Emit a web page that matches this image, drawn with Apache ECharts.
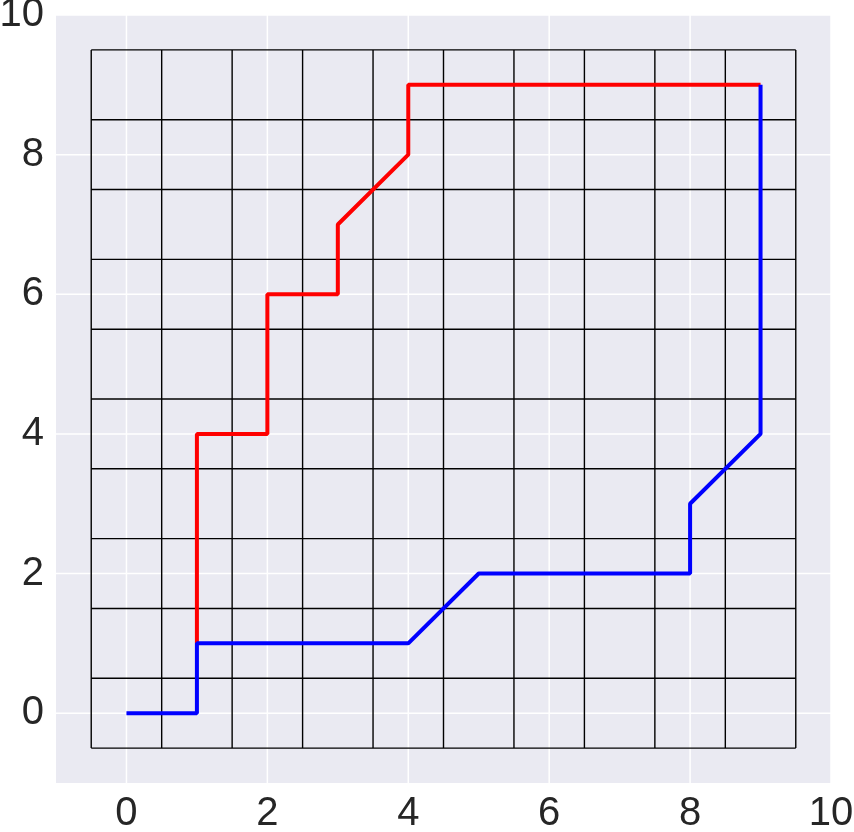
<!DOCTYPE html>
<html><head><meta charset="utf-8">
<script src="https://cdn.jsdelivr.net/npm/echarts@6/dist/echarts.min.js"></script>
<style>html,body{margin:0;padding:0;background:#fff}#c{width:854px;height:832px}</style>
</head><body><div id="c"></div>
<script>
const axisMin = -1, axisMax = 10;
const majorTicks = [0, 2, 4, 6, 8, 10];
const mazeLines = [-0.5, 0.5, 1.5, 2.5, 3.5, 4.5, 5.5, 6.5, 7.5, 8.5, 9.5];
const redPath = [[1,1],[1,4],[2,4],[2,6],[3,6],[3,7],[4,8],[4,9],[9,9]];
const bluePath = [[0,0],[1,0],[1,1],[4,1],[5,2],[8,2],[8,3],[9,4],[9,9]];

const series = [];
function seg(data, color, width, z) {
  series.push({type:'line', data:data, showSymbol:false, symbol:'none', silent:true,
    lineStyle:{color:color, width:width}, z:z, animation:false, clip:false});
}
majorTicks.forEach(v => {
  seg([[v, axisMin],[v, axisMax]], '#ffffff', 1.5, 1);
  seg([[axisMin, v],[axisMax, v]], '#ffffff', 1.5, 1);
});
const lo = mazeLines[0], hi = mazeLines[mazeLines.length-1];
mazeLines.forEach(v => {
  seg([[v, lo],[v, hi]], '#000000', 1.4, 2);
  seg([[lo, v],[hi, v]], '#000000', 1.4, 2);
});
seg(redPath, '#ff0000', 4, 3);
seg(bluePath, '#0000ff', 4, 4);

const lab = {fontFamily:'Liberation Sans, Arial, sans-serif', fontSize:40, color:'#262626',
  formatter: v => (majorTicks.indexOf(v) >= 0 ? String(v) : '')};
const chart = echarts.init(document.getElementById('c'), null, {renderer:'canvas'});
chart.setOption({
  animation:false,
  backgroundColor:'#ffffff',
  grid:{left:56, right:23, top:15, bottom:49, show:true, backgroundColor:'#eaeaf2', borderWidth:0,
    containLabel:false, outerBoundsMode:'none'},
  xAxis:{type:'value', min:axisMin, max:axisMax, interval:1,
    axisLine:{show:false}, axisTick:{show:false}, splitLine:{show:false},
    axisLabel:Object.assign({margin:11}, lab)},
  yAxis:{type:'value', min:axisMin, max:axisMax, interval:1,
    axisLine:{show:false}, axisTick:{show:false}, splitLine:{show:false},
    axisLabel:Object.assign({margin:12}, lab)},
  series:series
});
</script></body></html>
